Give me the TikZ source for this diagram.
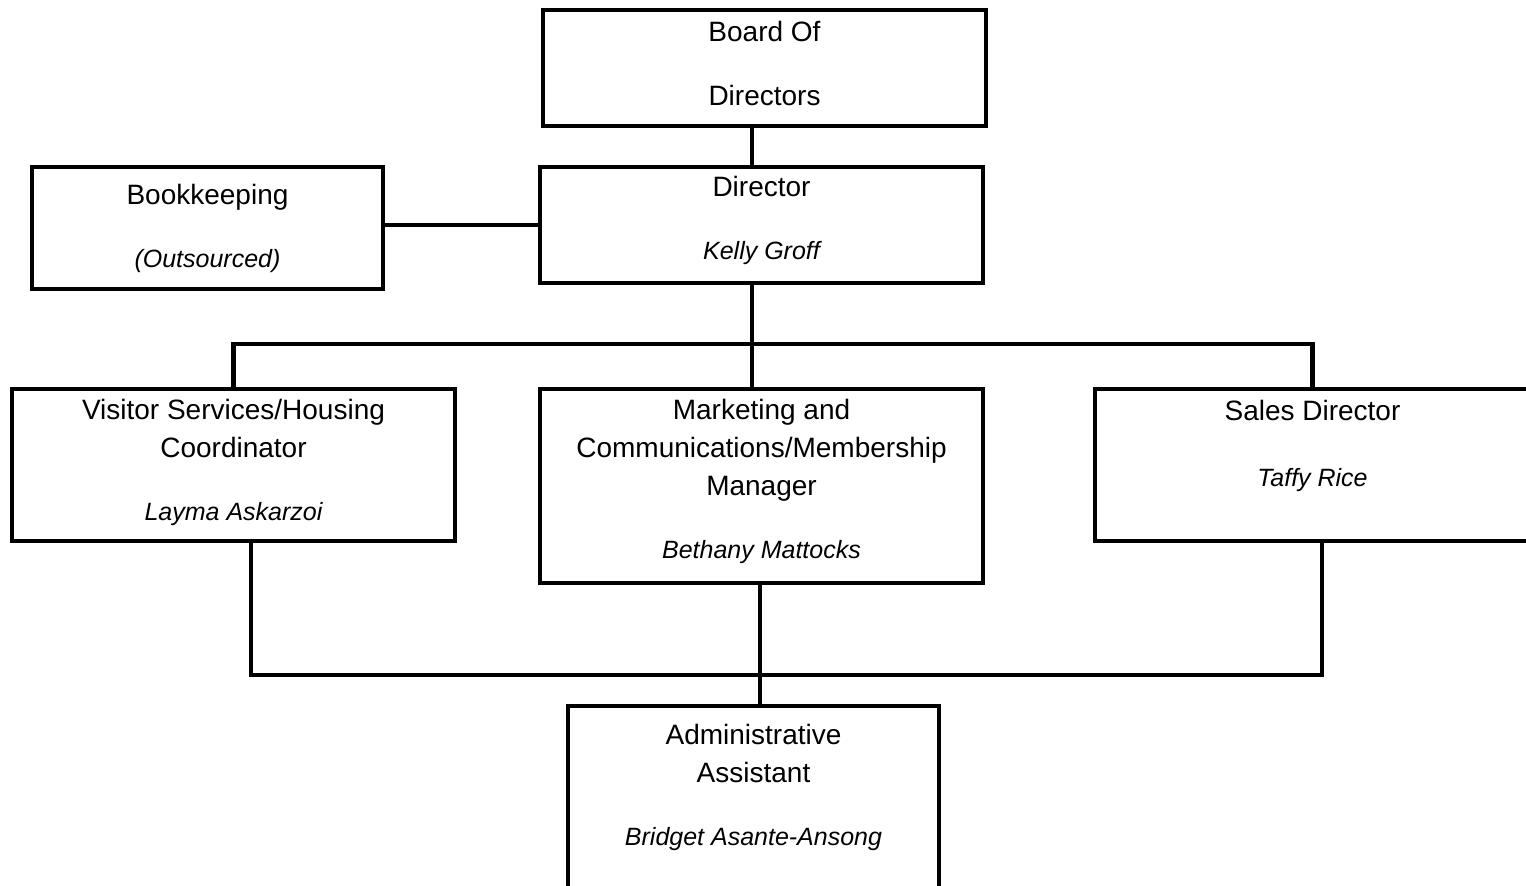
\documentclass[tikz,border=0pt]{standalone}
\usepackage{fontspec}
\setmainfont{Liberation Sans}
\usetikzlibrary{positioning}
\newcommand{\pname}[1]{{\fontsize{12.5}{19}\selectfont\itshape #1}}

\begin{document}
\begin{tikzpicture}[
        x=0.5pt, y=-0.5pt,
        orgbox/.style={rectangle, draw, line width=2pt, align=center, inner sep=0pt, font=\fontsize{14}{19}\selectfont},
        link/.style={line width=2.3pt}
    ]
    \path[use as bounding box, fill=white] (0,0) rectangle (1526,885);

    \node[orgbox, minimum width=221.5pt, minimum height=58pt] (board) at (764.5,68) {Board Of\\[13pt]Directors\\[-14pt]\mbox{}};
    \node[orgbox, minimum width=221.5pt, minimum height=58pt] (director) at (761.5,225) {Director\\[12.5pt]\pname{Kelly Groff}\\[-12pt]\mbox{}};
    \node[orgbox, minimum width=175.5pt, minimum height=61pt] (books) at (207.5,228) {Bookkeeping\\[12.5pt]\pname{(Outsourced)}};
    \node[orgbox, minimum width=221.5pt, minimum height=76pt] (visitor) at (233.5,465) {Visitor Services/Housing\\Coordinator\\[12.5pt]\pname{Layma Askarzoi}\\[-14pt]\mbox{}};
    \node[orgbox, minimum width=221.5pt, minimum height=97pt] (market) at (761.5,486) {Marketing and\\Communications/Membership\\Manager\\[12.5pt]\pname{Bethany Mattocks}\\[-12pt]\mbox{}};
    \node[orgbox, minimum width=217.5pt, minimum height=76pt] (sales) at (1312.5,465) {Sales Director\\[14pt]\pname{Taffy Rice}\\[3pt]\mbox{}};
    \node[orgbox, minimum width=185.5pt, minimum height=99pt] (admin) at (753.5,805) {Administrative\\Assistant\\[12.5pt]\pname{Bridget Asante-Ansong}\\[1pt]\mbox{}};

    \coordinate (trunk) at (752,0);
    \coordinate (bus) at (0,344);
    \coordinate (low) at (0,675);
    \coordinate (lleft) at (251,0);
    \coordinate (lright) at (1322,0);
    \coordinate (ldrop) at (760,0);

    \draw[link] (board.south -| trunk) -- (director.north -| trunk);
    \draw[link] (director.west) -- (director.west -| books.east);
    \draw[link] (director.south -| trunk) -- (market.north -| trunk);
    \draw[link] (visitor.north) |- (sales.north |- bus) -- (sales.north);
    \draw[link] (visitor.south -| lleft) -- (lleft |- low) -- (lright |- low) -- (sales.south -| lright);
    \draw[link] (market.south -| ldrop) -- (admin.north -| ldrop);

\end{tikzpicture}
\end{document}
